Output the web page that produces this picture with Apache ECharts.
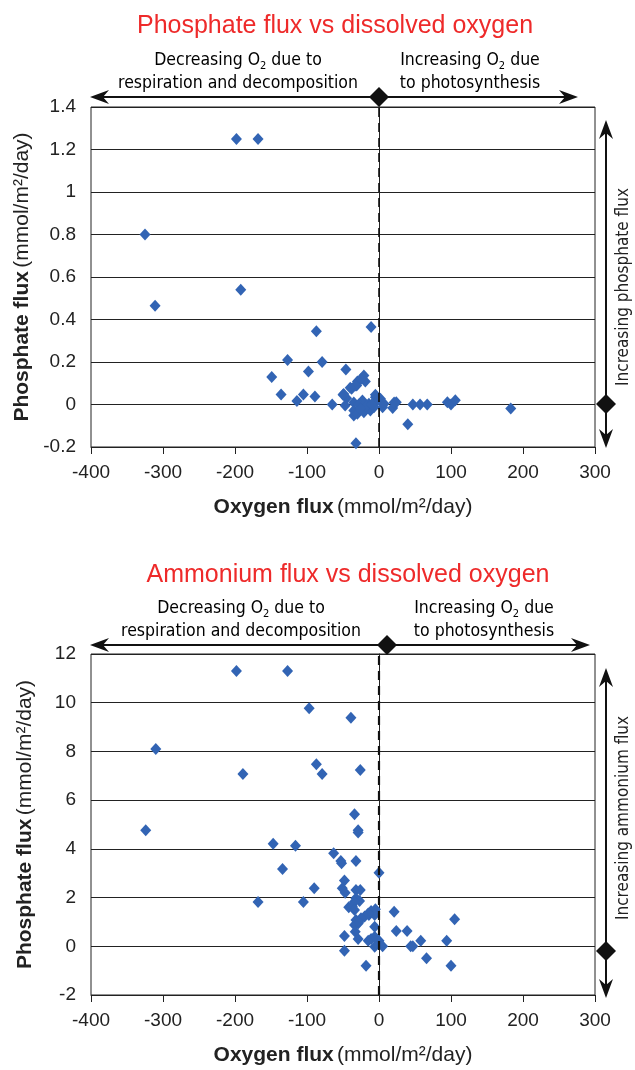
<!DOCTYPE html>
<html>
<head>
<meta charset="utf-8">
<script src="https://cdn.jsdelivr.net/npm/echarts@6/dist/echarts.min.js"></script>
<style>html,body{margin:0;padding:0;background:#fff}#c{width:635px;height:1070px}</style>
</head>
<body>
<div id="c"></div>
<script>
// ---- data ----
var xTicks = [-400, -300, -200, -100, 0, 100, 200, 300];
var phosphateYTicks = [-0.2, 0, 0.2, 0.4, 0.6, 0.8, 1, 1.2, 1.4];
var ammoniumYTicks = [-2, 0, 2, 4, 6, 8, 10, 12];

var phosphateOxygen = [-198,-168,-325,-311,-192,-87,-11,-127,-79,-149,-98,-46,-136,-114,-105,-89,-65,-50,-45,-47,-38,-30,-31,-21,-19,-35,-32,-5,2,5,19,24,47,57,67,95,100,106,40,183,
  -25,-33,-40,-49,-35,-23,-14,-5,-2,-35,-30,-21,-12,-7,7,21,-28,-18,-26,-10];
var phosphateFlux = [1.25,1.25,0.80,0.465,0.54,0.345,0.365,0.21,0.20,0.13,0.155,0.165,0.047,0.017,0.047,0.038,0,0.046,0.03,-0.005,0.074,0.108,0.09,0.137,0.108,-0.052,-0.182,0.046,0.027,-0.013,-0.017,0.011,0,0,0,0.011,0,0.02,-0.093,-0.019,
  0.12,0.09,0.079,0.05,0.01,0.019,0.003,0.034,0.019,-0.028,-0.044,-0.036,-0.028,-0.013,0.003,0.01,0.0,-0.01,-0.02,0.0];

var ammoniumOxygen = [-198,-127,-97,-39,-310,-189,-87,-79,-26,-34,-29,-29,-324,-147,-116,-63,-53,-52,-32,-134,0,-48,-90,-168,-105,-51,-47,-32,-26,-32,-27,-34,-42,-37,-34,-11,-5,-14,-6,-15,-20,-25,-32,-29,-34,-6,21,105,-33,24,39,-48,-29,-15,-11,0,-6,5,44,47,58,94,-48,66,-18,100,-6,-28];
var ammoniumFlux = [11.3,11.3,9.77,9.38,8.1,7.07,7.47,7.07,7.24,5.42,4.76,4.67,4.76,4.21,4.13,3.82,3.5,3.41,3.5,3.17,3.02,2.7,2.38,1.82,1.82,2.38,2.2,2.31,2.31,1.97,1.86,1.83,1.6,1.64,1.49,1.45,1.52,1.28,1.28,1.35,1.22,1.15,1.08,0.94,0.87,0.8,1.42,1.11,0.6,0.63,0.63,0.42,0.3,0.23,0.3,0.23,-0.02,0,0,0,0.23,0.23,-0.18,-0.49,-0.8,-0.8,0.39,1.0];

function zip(a, b) { return a.map(function (v, i) { return [v, b[i]]; }); }

// ---- styling ----
var FONT = "'Liberation Sans', Arial, sans-serif";
var NARROW = "'Liberation Sans Narrow', 'DejaVu Sans Condensed', 'Liberation Sans', sans-serif";
var BLUE = '#3264b4';
var RED = '#ee2a2a';

function nameRich() {
  return { rich: {
    b: { fontSize: 21, fontWeight: 'bold', color: '#222', fontFamily: FONT },
    n: { fontSize: 21, color: '#222', fontFamily: FONT } } };
}
function xAxisDef(gi) {
  return {
    gridIndex: gi, type: 'value', min: -400, max: 300, interval: 100,
    axisLine: { show: true, onZero: false, lineStyle: { color: '#222', width: 1 } },
    axisTick: { show: true, inside: false, length: 7, lineStyle: { color: '#222' } },
    axisLabel: { margin: 16, fontSize: 19, color: '#222', fontFamily: FONT },
    splitLine: { show: false },
    name: '{b|Oxygen flux} {n|(mmol/m²/day)}', nameLocation: 'middle', nameGap: 50,
    nameTextStyle: nameRich()
  };
}
function yAxisDef(gi, min, max, interval, gap) {
  return {
    gridIndex: gi, type: 'value', min: min, max: max, interval: interval,
    axisLine: { show: true, lineStyle: { color: '#222', width: 1 } },
    axisTick: { show: true, inside: false, length: 8, lineStyle: { color: '#222' } },
    axisLabel: { margin: 15, fontSize: 19, color: '#222', fontFamily: FONT,
      formatter: function (v) { return String(+v.toFixed(2)); } },
    splitLine: { show: true, lineStyle: { color: '#222', width: 1 } },
    name: '{b|Phosphate flux} {n|(mmol/m²/day)}', nameLocation: 'middle', nameGap: gap,
    nameTextStyle: nameRich()
  };
}
function scatter(gi, data, dashW) {
  return {
    type: 'scatter', xAxisIndex: gi, yAxisIndex: gi, data: data,
    symbol: 'diamond', symbolSize: [11, 12],
    itemStyle: { color: BLUE, opacity: 1 },
    markLine: {
      silent: true, symbol: 'none', label: { show: false },
      lineStyle: { type: [9, 6], color: '#111', width: dashW },
      data: [{ xAxis: 0 }]
    }
  };
}

// ---- annotation helpers ----
function diamond(cx, cy, rx, ry) {
  return { type: 'polygon', shape: { points: [[cx, cy - ry], [cx + rx, cy], [cx, cy + ry], [cx - rx, cy]] },
    style: { fill: '#111' }, z: 20 };
}
function hArrow(x1, x2, y) {
  return [
    { type: 'line', shape: { x1: x1 + 6, y1: y, x2: x2 - 6, y2: y }, style: { stroke: '#111', lineWidth: 2 }, z: 15 },
    { type: 'polygon', shape: { points: [[x1, y], [x1 + 19, y - 7], [x1 + 13, y], [x1 + 19, y + 7]] }, style: { fill: '#111' }, z: 15 },
    { type: 'polygon', shape: { points: [[x2, y], [x2 - 19, y - 7], [x2 - 13, y], [x2 - 19, y + 7]] }, style: { fill: '#111' }, z: 15 }
  ];
}
function vArrow(x, y1, y2) {
  return [
    { type: 'line', shape: { x1: x, y1: y1 + 6, x2: x, y2: y2 - 6 }, style: { stroke: '#111', lineWidth: 2 }, z: 15 },
    { type: 'polygon', shape: { points: [[x, y1], [x - 7, y1 + 19], [x, y1 + 13], [x + 7, y1 + 19]] }, style: { fill: '#111' }, z: 15 },
    { type: 'polygon', shape: { points: [[x, y2], [x - 7, y2 - 19], [x, y2 - 13], [x + 7, y2 - 19]] }, style: { fill: '#111' }, z: 15 }
  ];
}
var richAnn = {
  n: { fontSize: 17.5, color: '#222', fontFamily: NARROW, lineHeight: 23 },
  s: { fontSize: 11, color: '#222', fontFamily: NARROW, lineHeight: 12, verticalAlign: 'bottom' }
};
function annText(x, y, txt) {
  return { type: 'text', x: x, y: y, z: 20,
    style: { text: txt, rich: richAnn, align: 'center', verticalAlign: 'middle' } };
}
function sideText(x, y, txt) {
  return { type: 'text', x: x, y: y, rotation: Math.PI / 2, z: 20,
    style: { text: txt, fontSize: 17, fill: '#222', fontFamily: NARROW, align: 'center', verticalAlign: 'middle' } };
}

var graphics = [].concat(
  hArrow(90, 578, 97), [diamond(379, 97, 10, 10)],
  [annText(238, 72, '{n|Decreasing O}{s|2}{n| due to}\n{n|respiration and decomposition}'),
   annText(470, 72, '{n|Increasing O}{s|2}{n| due}\n{n|to photosynthesis}')],
  vArrow(606, 120, 448), [diamond(606, 404, 10, 10), sideText(624, 287, 'Increasing phosphate flux')],
  hArrow(90, 590, 645), [diamond(387, 645, 10, 10)],
  [annText(241, 620, '{n|Decreasing O}{s|2}{n| due to}\n{n|respiration and decomposition}'),
   annText(484, 620, '{n|Increasing O}{s|2}{n| due}\n{n|to photosynthesis}')],
  vArrow(606, 668, 998), [diamond(606, 951, 10, 10), sideText(624, 818, 'Increasing ammonium flux')]
);

var chart = echarts.init(document.getElementById('c'), null, { renderer: 'canvas' });
chart.setOption({
  animation: false,
  backgroundColor: '#fff',
  title: [
    { text: 'Phosphate flux vs dissolved oxygen', left: 330, top: 9, textAlign: 'center',
      textStyle: { fontSize: 25, fontWeight: 'normal', color: RED, fontFamily: FONT } },
    { text: 'Ammonium flux vs dissolved oxygen', left: 343, top: 558, textAlign: 'center',
      textStyle: { fontSize: 25, fontWeight: 'normal', color: RED, fontFamily: FONT } }
  ],
  grid: [
    { left: 91, top: 107, width: 504, height: 340, show: true, borderColor: '#222', borderWidth: 1, backgroundColor: 'transparent' },
    { left: 91, top: 654, width: 504, height: 341, show: true, borderColor: '#222', borderWidth: 1, backgroundColor: 'transparent' }
  ],
  xAxis: [xAxisDef(0), xAxisDef(1)],
  yAxis: [yAxisDef(0, -0.2, 1.4, 0.2, 57), yAxisDef(1, -2, 12, 2, 55)],
  series: [scatter(0, zip(phosphateOxygen, phosphateFlux), 1.6), scatter(1, zip(ammoniumOxygen, ammoniumFlux), 2.2)],
  graphic: graphics
});
</script>
</body>
</html>
